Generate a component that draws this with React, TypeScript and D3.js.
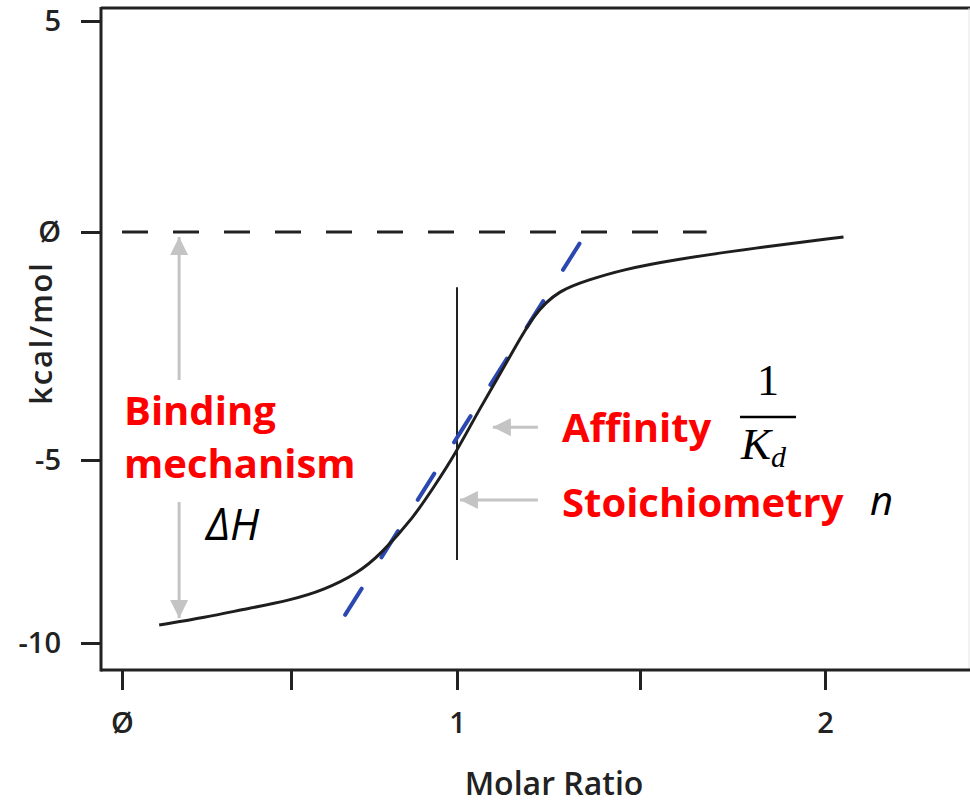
import { useEffect, useRef } from 'react';
import * as d3 from 'd3';

// axis ticks
const xTicks = [0, 0.5, 1, 1.5, 2];
const xTickLabels = ['Ø', '', '1', '', '2'];
const yTicks = [5, 0, -5, -10];
const yTickLabels = ['5', 'Ø', '-5', '-10'];

// fitted binding isotherm (molar ratio vs kcal/mol)
const ratio = [0.11, 0.25, 0.35, 0.5, 0.6, 0.7, 0.77, 0.87, 0.93, 0.99, 1.06, 1.14, 1.21, 1.28, 1.36, 1.45, 1.59, 1.81, 2.05];
const heat = [-9.51, -9.29, -9.1, -8.83, -8.55, -8.1, -7.58, -6.56, -5.74, -4.93, -3.9, -2.81, -1.78, -1.27, -1.05, -0.83, -0.61, -0.35, -0.11];

// tangent at the inflection point
const tangentRatio = [0.663, 1.336];
const tangentHeat = [-9.23, -0.24];

// zero baseline extent
const baselineRatio = [0.0, 1.68];

export default function App() {
    const svgRef = useRef<SVGSVGElement | null>(null);

    useEffect(() => {
        if (!svgRef.current) return;
        const svg = d3.select(svgRef.current);
        svg.selectAll('*').remove();

        const W = 970;
        const H = 804;
        const axisX = 101;
        const axisY = 670;
        const font = 'Open Sans, sans-serif';

        // Piecewise scales (the source figure is not evenly spaced)
        const x = d3.scaleLinear().domain(xTicks).range([122, 291, 457, 640, 825]);
        const y = d3.scaleLinear().domain(yTicks).range([21, 232, 460, 643]);

        svg.attr('width', W).attr('height', H);

        const defs = svg.append('defs');
        defs.append('marker')
            .attr('id', 'grey-head')
            .attr('viewBox', '0 0 10 10')
            .attr('refX', 10)
            .attr('refY', 5)
            .attr('markerUnits', 'userSpaceOnUse')
            .attr('markerWidth', 18)
            .attr('markerHeight', 24)
            .attr('orient', 'auto')
            .append('path')
            .attr('d', 'M0,0 L10,5 L0,10 Z')
            .attr('fill', '#c4c4c4');

        svg.append('rect').attr('width', W).attr('height', H).attr('fill', '#fff');

        // frame
        svg.append('line')
            .attr('x1', axisX).attr('x2', W).attr('y1', 8).attr('y2', 8)
            .attr('stroke', '#222').attr('stroke-width', 3);
        svg.append('line')
            .attr('x1', 969).attr('x2', 969).attr('y1', 8).attr('y2', axisY)
            .attr('stroke', '#e6e6e6').attr('stroke-width', 1);

        // Y axis
        const yAxis = d3.axisLeft(y)
            .tickValues(yTicks)
            .tickSize(20)
            .tickPadding(20)
            .tickFormat((d, i) => yTickLabels[i]);

        const gy = svg.append('g')
            .attr('transform', `translate(${axisX},0)`)
            .call(yAxis);
        gy.select('.domain').remove();
        gy.selectAll('.tick line').attr('stroke', '#222').attr('stroke-width', 3);
        gy.selectAll('.tick text')
            .attr('fill', '#222')
            .attr('font-family', font)
            .attr('font-weight', 600)
            .attr('font-size', 29);

        // X axis
        const xAxis = d3.axisBottom(x)
            .tickValues(xTicks)
            .tickSize(20)
            .tickPadding(22)
            .tickFormat((d, i) => xTickLabels[i]);

        const gx = svg.append('g')
            .attr('transform', `translate(0,${axisY})`)
            .call(xAxis);
        gx.select('.domain').remove();
        gx.selectAll('.tick line').attr('stroke', '#222').attr('stroke-width', 3);
        gx.selectAll('.tick text')
            .attr('fill', '#222')
            .attr('font-family', font)
            .attr('font-weight', 600)
            .attr('font-size', 29);

        // axis lines
        svg.append('line')
            .attr('x1', axisX).attr('x2', axisX).attr('y1', 7).attr('y2', axisY + 1.5)
            .attr('stroke', '#222').attr('stroke-width', 3);
        svg.append('line')
            .attr('x1', axisX).attr('x2', W).attr('y1', axisY).attr('y2', axisY)
            .attr('stroke', '#222').attr('stroke-width', 3);

        // axis titles
        svg.append('text')
            .attr('transform', 'translate(52,333) rotate(-90)')
            .attr('text-anchor', 'middle')
            .attr('font-family', font)
            .attr('font-weight', 600)
            .attr('font-size', 31)
            .attr('letter-spacing', 1.8)
            .attr('fill', '#222')
            .text('kcal/mol');

        svg.append('text')
            .attr('x', 554).attr('y', 795)
            .attr('text-anchor', 'middle')
            .attr('font-family', font)
            .attr('font-weight', 600)
            .attr('font-size', 32)
            .attr('fill', '#222')
            .text('Molar Ratio');

        // zero baseline
        svg.append('line')
            .attr('x1', x(baselineRatio[0]))
            .attr('x2', x(baselineRatio[1]))
            .attr('y1', y(0)).attr('y2', y(0))
            .attr('stroke', '#222')
            .attr('stroke-width', 3)
            .attr('stroke-dasharray', '26,25');

        // Stoichiometry vertical marker
        svg.append('line')
            .attr('x1', x(1)).attr('x2', x(1))
            .attr('y1', y(-1.21)).attr('y2', y(-7.73))
            .attr('stroke', '#222')
            .attr('stroke-width', 2);

        // tangent (blue dashed)
        svg.append('line')
            .attr('x1', x(tangentRatio[0])).attr('y1', y(tangentHeat[0]))
            .attr('x2', x(tangentRatio[1])).attr('y2', y(tangentHeat[1]))
            .attr('stroke', '#2a48b0')
            .attr('stroke-width', 4)
            .attr('stroke-linecap', 'round')
            .attr('stroke-dasharray', '31,37');

        // fitted curve
        const line = d3.line<number>()
            .x((d, i) => x(ratio[i]))
            .y(d => y(d))
            .curve(d3.curveBasis);

        svg.append('path')
            .datum(heat)
            .attr('fill', 'none')
            .attr('stroke', '#1e1e1e')
            .attr('stroke-width', 3)
            .attr('d', line);

        // grey arrows
        const greyArrow = (x1: number, y1: number, x2: number, y2: number) => {
            svg.append('line')
                .attr('x1', x1).attr('y1', y1)
                .attr('x2', x2).attr('y2', y2)
                .attr('stroke', '#c4c4c4')
                .attr('stroke-width', 3)
                .attr('marker-end', 'url(#grey-head)');
        };
        const dx = x(0.169);
        greyArrow(dx, 380, dx, y(-0.11));
        greyArrow(dx, 502, dx, y(-9.32));
        greyArrow(x(1.221), y(-4.28), x(1.098), y(-4.28));
        greyArrow(x(1.221), y(-6.09), x(1.008), y(-6.09));

        // labels
        const red = (tx: number, ty: number, s: string) =>
            svg.append('text')
                .attr('x', tx).attr('y', ty)
                .attr('font-family', font)
                .attr('font-weight', 700)
                .attr('font-size', 40)
                .attr('fill', '#ff0000')
                .text(s);

        red(124, 425, 'Binding');
        red(124, 478, 'mechanism');
        red(562, 442, 'Affinity');
        red(562, 517, 'Stoichiometry');

        svg.append('text')
            .attr('x', 206).attr('y', 540)
            .attr('font-family', font)
            .attr('font-style', 'italic')
            .attr('font-size', 43)
            .attr('fill', '#000')
            .text('ΔH');

        svg.append('text')
            .attr('x', 870).attr('y', 515)
            .attr('font-family', font)
            .attr('font-style', 'italic')
            .attr('font-size', 40)
            .attr('fill', '#000')
            .text('n');

        // 1 / K_d
        svg.append('text')
            .attr('x', 768).attr('y', 395)
            .attr('text-anchor', 'middle')
            .attr('font-family', 'Liberation Serif, serif')
            .attr('font-size', 44)
            .attr('fill', '#000')
            .text('1');
        svg.append('line')
            .attr('x1', 740).attr('x2', 796)
            .attr('y1', 417).attr('y2', 417)
            .attr('stroke', '#000')
            .attr('stroke-width', 2.5);
        const kd = svg.append('text')
            .attr('x', 741).attr('y', 459)
            .attr('font-family', 'Liberation Serif, serif')
            .attr('font-style', 'italic')
            .attr('font-size', 45)
            .attr('fill', '#000');
        kd.append('tspan').text('K');
        kd.append('tspan')
            .attr('dy', 8)
            .attr('font-size', 30)
            .text('d');
    }, []);

    return (
        <svg
            ref={svgRef}
            style={{ position: 'absolute', left: 0, top: 0, display: 'block' }}
        />
    );
}
